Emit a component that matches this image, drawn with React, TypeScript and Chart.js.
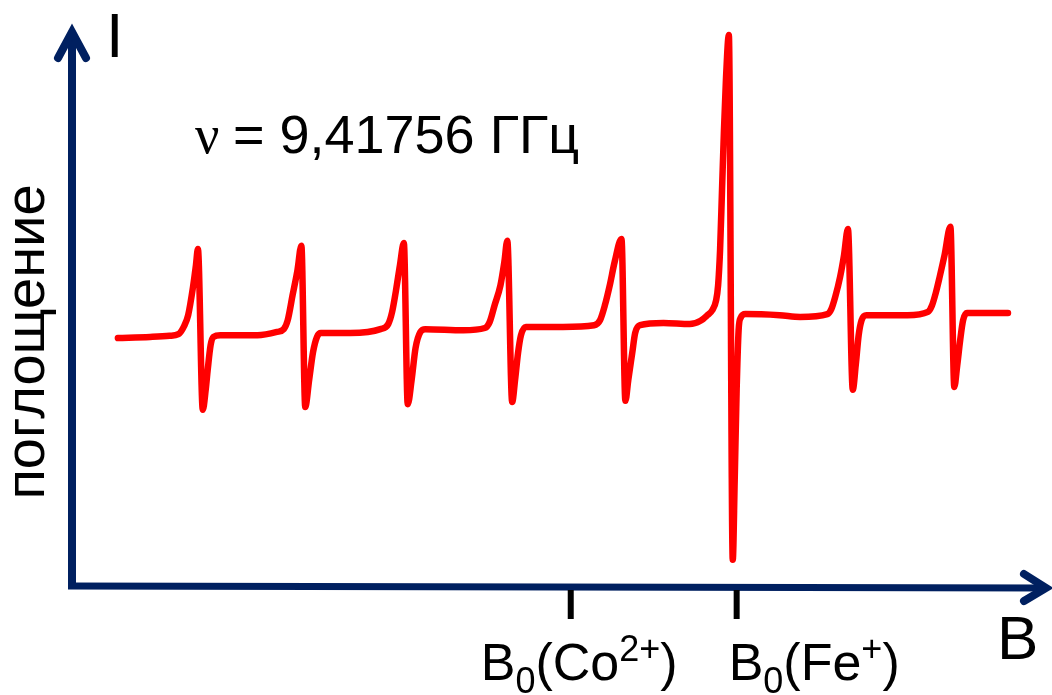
import React, { useEffect, useRef } from "react";
import { Chart, registerables } from "chart.js";

Chart.register(...registerables);

// Magnetic field B (arbitrary units, 0..100 along the axis)
const fieldB = [
  4.7, 8.0, 10.0, 10.9, 11.5, 11.9, 12.4, 12.7, 12.9, 13.4, 13.7, 13.9, 14.2, 14.5, 15.2, 19.0,
  21.0, 21.7, 22.1, 22.6, 23.1, 23.5, 23.9, 24.3, 24.7, 25.1, 25.5, 28.5,
  31.6, 32.4, 32.8, 33.2, 33.6, 34.0, 34.4, 34.8, 35.2, 35.7, 36.2, 40.1,
  42.3, 42.8, 43.3, 43.9, 44.3, 44.6, 45.1, 45.4, 45.7, 46.0, 46.5, 50.3,
  53.5, 54.1, 54.6, 55.1, 55.6, 56.3, 56.7, 57.0, 57.4, 57.7, 58.2, 60.6, 63.3,
  64.4, 65.1, 65.6, 66.0, 66.2, 66.4, 66.6, 66.8, 67.0, 67.3, 67.7, 67.9, 68.1, 68.3, 68.5, 69.0, 72.5,
  74.6, 77.4, 77.8, 78.2, 78.7, 79.1, 79.5, 80.0, 80.3, 80.6, 80.9, 81.4, 85.6,
  87.7, 88.1, 88.5, 88.9, 89.4, 90.0, 90.4, 90.7, 91.0, 91.3, 91.7, 95.9,
];

// Absorption signal (arbitrary units, 0..100 along the axis)
const absorption = [
  44.6, 44.8, 45.0, 45.3, 46.8, 48.7, 53.8, 57.7, 60.6, 31.7, 35.3, 38.8, 43.3, 44.8, 45.1, 45.1,
  45.7, 46.2, 47.8, 52.3, 56.8, 61.2, 32.2, 37.1, 42.1, 44.8, 45.5, 45.5,
  46.2, 47.1, 49.3, 53.2, 57.7, 61.7, 32.7, 37.1, 42.8, 45.7, 46.2, 46.0,
  46.4, 47.5, 50.5, 54.1, 58.3, 62.1, 33.1, 37.1, 41.9, 45.1, 46.6, 46.6,
  46.9, 47.8, 50.5, 54.1, 58.3, 62.4, 33.3, 37.1, 41.9, 45.5, 46.9, 47.3, 47.1,
  47.7, 48.7, 49.6, 51.4, 54.1, 60.4, 71.2, 82.0, 91.0, 99.1, 4.7, 19.1, 35.3, 46.0, 48.2, 48.9, 48.7,
  48.4, 48.9, 49.8, 52.0, 55.6, 59.5, 64.2, 35.3, 39.7, 45.1, 47.8, 48.7, 48.7,
  49.3, 50.4, 52.7, 55.6, 59.5, 64.6, 35.8, 39.7, 44.2, 47.8, 49.1, 49.1,
];

// Marked resonance fields on the B axis
const tickPositions = [51.1, 68.1];
const tickIons = ["Co", "Fe"];
const tickCharges = ["2+", "+"];

const frequencyLabel = "= 9,41756 ГГц";
const yAxisTitle = "поглощение";
const yAxisName = "I";
const xAxisName = "B";

const SANS = '"Liberation Sans", Arial, sans-serif';
const SERIF = '"Liberation Serif", "Times New Roman", serif';
const NAVY = "#002060";

const decorPlugin = {
  id: "decor",
  beforeDatasetsDraw(chart: any) {
    const { ctx, chartArea, scales } = chart;
    const x0 = chartArea.left;
    const y0 = chartArea.bottom;
    ctx.save();
    // axes
    ctx.strokeStyle = NAVY;
    ctx.lineWidth = 8;
    ctx.lineCap = "butt";
    ctx.beginPath();
    ctx.moveTo(x0, y0 + 3);
    ctx.lineTo(x0, chartArea.top + 4);
    ctx.stroke();
    ctx.lineWidth = 7;
    ctx.beginPath();
    ctx.moveTo(x0 - 4, y0);
    ctx.lineTo(chartArea.right - 4, y0 + 2);
    ctx.stroke();
    // arrowheads
    ctx.lineWidth = 8;
    ctx.lineCap = "round";
    ctx.lineJoin = "miter";
    ctx.beginPath();
    ctx.moveTo(x0 - 14, chartArea.top + 28);
    ctx.lineTo(x0, chartArea.top + 2);
    ctx.lineTo(x0 + 14, chartArea.top + 28);
    ctx.stroke();
    ctx.beginPath();
    ctx.moveTo(chartArea.right - 24, y0 - 12);
    ctx.lineTo(chartArea.right - 2, y0 + 2);
    ctx.lineTo(chartArea.right - 24, y0 + 15);
    ctx.stroke();

    // tick marks and labels
    ctx.strokeStyle = "#000";
    ctx.fillStyle = "#000";
    ctx.lineWidth = 6;
    ctx.lineCap = "butt";
    tickPositions.forEach((v, i) => {
      const px = scales.x.getPixelForValue(v);
      ctx.beginPath();
      ctx.moveTo(px, y0 + 4);
      ctx.lineTo(px, y0 + 33);
      ctx.stroke();
      const base = y0 + 94;
      let cx = i === 0 ? px - 90 : px - 8;
      ctx.textBaseline = "alphabetic";
      ctx.textAlign = "left";
      ctx.font = `52px ${SANS}`;
      ctx.fillText("B", cx, base);
      cx += ctx.measureText("B").width;
      ctx.font = `36px ${SANS}`;
      ctx.fillText("0", cx, base + 13);
      cx += ctx.measureText("0").width;
      ctx.font = `52px ${SANS}`;
      const mid = "(" + tickIons[i];
      ctx.fillText(mid, cx, base);
      cx += ctx.measureText(mid).width;
      ctx.font = `36px ${SANS}`;
      ctx.fillText(tickCharges[i], cx, base - 19);
      cx += ctx.measureText(tickCharges[i]).width;
      ctx.font = `52px ${SANS}`;
      ctx.fillText(")", cx, base);
    });

    // axis names
    ctx.font = `63px ${SANS}`;
    ctx.fillText(yAxisName, x0 + 34, chartArea.top + 27);
    ctx.font = `62px ${SANS}`;
    ctx.fillText(xAxisName, chartArea.right - 51, y0 + 73);

    // frequency
    ctx.font = `54px ${SERIF}`;
    let fx = x0 + 123;
    const fy = chartArea.top + 123;
    ctx.fillText("ν", fx, fy);
    fx += ctx.measureText("ν ").width;
    ctx.font = `54px ${SANS}`;
    ctx.fillText(frequencyLabel, fx, fy);

    // rotated y title
    ctx.save();
    ctx.translate(44, (chartArea.top + y0) / 2 + 34);
    ctx.rotate(-Math.PI / 2);
    ctx.font = `56px ${SANS}`;
    ctx.textAlign = "center";
    ctx.fillText(yAxisTitle, 0, 0);
    ctx.restore();

    ctx.restore();
  },
};

export default function App() {
  const ref = useRef<HTMLCanvasElement | null>(null);
  useEffect(() => {
    if (!ref.current) return;
    const chart = new Chart(ref.current, {
      type: "line",
      data: {
        datasets: [
          {
            data: fieldB.map((x, i) => ({ x, y: absorption[i] })),
            borderColor: "#ff0000",
            borderWidth: 6.5,
            pointRadius: 0,
            cubicInterpolationMode: "monotone",
            borderCapStyle: "round",
            borderJoinStyle: "round",
            fill: false,
          },
        ],
      },
      options: {
        responsive: false,
        animation: false,
        layout: { padding: { left: 72, right: 4, top: 30, bottom: 109 } },
        scales: {
          x: { type: "linear", min: 0, max: 100, display: false },
          y: { type: "linear", min: 0, max: 100, display: false },
        },
        plugins: { legend: { display: false }, tooltip: { enabled: false } },
      },
      plugins: [decorPlugin],
    } as any);
    return () => chart.destroy();
  }, []);
  return (
    <div style={{ position: "absolute", left: 0, top: 0, width: 1052, height: 695, background: "#fff" }}>
      <canvas ref={ref} width={1052} height={695} style={{ display: "block" }} />
    </div>
  );
}
